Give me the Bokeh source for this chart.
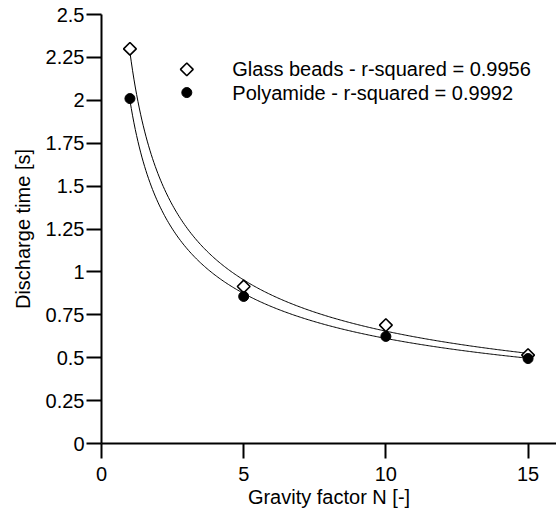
import numpy as np
from bokeh.plotting import figure
from bokeh.models import FixedTicker, Range1d
from bokeh.core.properties import value
from bokeh.embed import file_html
from bokeh.resources import INLINE

gravity = [1, 5, 10, 15]
glass_beads = [2.30, 0.915, 0.69, 0.515]
polyamide = [2.01, 0.857, 0.624, 0.495]
glass_label = "Glass beads - r-squared = 0.9956"
poly_label = "Polyamide - r-squared = 0.9992"
y_ticks = [0, 0.25, 0.5, 0.75, 1, 1.25, 1.5, 1.75, 2, 2.25, 2.5]
y_tick_labels = ["0", "0.25", "0.5", "0.75", "1", "1.25", "1.5", "1.75", "2", "2.25", "2.5"]
x_ticks = [0, 5, 10, 15]

FONT = "Liberation Sans"
FS = "20px"

p = figure(width=556, height=514, output_backend="svg", toolbar_location=None,
           x_range=Range1d(0, 16), y_range=Range1d(0, 2.5),
           min_border_left=101, min_border_right=0, min_border_top=14, min_border_bottom=71)
p.outline_line_color = None
p.grid.visible = False
p.background_fill_color = "white"
p.border_fill_color = "white"

# power-law fits (log-log least squares on the data)
def fit_curve(x, y):
    b, lna = np.polyfit(np.log(x), np.log(y), 1)
    xs = np.linspace(min(x), max(x), 300)
    return xs, np.exp(lna) * xs ** b

gx, gy = fit_curve(gravity, glass_beads)
px_, py_ = fit_curve(gravity, polyamide)
p.line(gx, gy, line_color="black", line_width=1)
p.line(px_, py_, line_color="black", line_width=1)

p.scatter(gravity, glass_beads, marker="square", angle=np.pi / 4, size=9, fill_color="white",
          line_color="black", line_width=1.6)
p.scatter(gravity, polyamide, marker="circle", size=10, fill_color="black",
          line_color="black")

# legend (manual)
p.scatter([3.0], [2.18], marker="square", angle=np.pi / 4, size=9, fill_color="white",
          line_color="black", line_width=1.6)
p.scatter([3.0], [2.045], marker="circle", size=10, fill_color="black", line_color="black")
p.text([4.6], [2.18], text=[glass_label], text_font=value(FONT), text_font_size=FS,
       text_baseline="middle", text_color="black")
p.text([4.6], [2.045], text=[poly_label], text_font=value(FONT), text_font_size=FS,
       text_baseline="middle", text_color="black")

for ax in (p.xaxis[0], p.yaxis[0]):
    ax.axis_line_width = 2
    ax.major_tick_line_width = 2
    ax.major_tick_in = 0
    ax.major_tick_out = 15
    ax.minor_tick_line_color = None
    ax.major_label_text_font = FONT
    ax.major_label_text_font_size = FS
    ax.major_label_text_color = "black"
    ax.axis_label_text_font = FONT
    ax.axis_label_text_font_size = FS
    ax.axis_label_text_font_style = "normal"
    ax.axis_label_text_color = "black"

p.xaxis.ticker = FixedTicker(ticks=x_ticks)
p.yaxis.ticker = FixedTicker(ticks=y_ticks)
p.yaxis.major_label_overrides = {t: l for t, l in zip(y_ticks, y_tick_labels)}
p.xaxis.axis_label = "Gravity factor N [-]"
p.yaxis.axis_label = "Discharge time [s]"
p.xaxis.major_label_standoff = 8
p.xaxis.axis_label_standoff = 2
p.yaxis.major_label_standoff = 2
p.yaxis.axis_label_standoff = 9

open("out.html", "w").write(file_html(p, INLINE))
